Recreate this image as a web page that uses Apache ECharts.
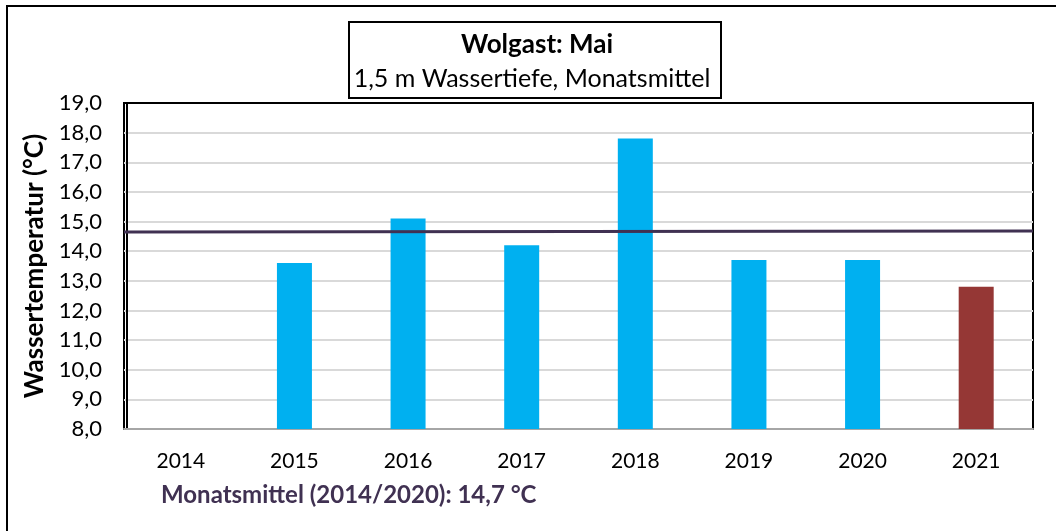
<!DOCTYPE html>
<html>
<head>
<meta charset="utf-8">
<script src="https://cdn.jsdelivr.net/npm/echarts@6/dist/echarts.min.js"></script>
<style>
  html, body { margin: 0; padding: 0; background: #fff; }
  #chart { width: 1056px; height: 531px; }
</style>
</head>
<body>
<div id="chart"></div>
<script>
// data
const years = ['2014', '2015', '2016', '2017', '2018', '2019', '2020', '2021']
const temps = [null, 13.6, 15.1, 14.2, 17.8, 13.7, 13.7, 12.8]
const meanLine = [[-0.003, 14.65], [1, 14.68]]
const yTicks = { min: 8, max: 19, step: 1 }

const font = 'Lato, "Open Sans", sans-serif'
const blue = '#00B0F0'
const brown = '#953735'
const purple = '#403152'

// last year is drawn in brown
const barData = temps.map((v, i) => ({
  value: v,
  itemStyle: { color: i === temps.length - 1 ? brown : blue }
}))

// split line colours: grey for all, black at the top (grid border)
const splitColors = []
for (let v = yTicks.min; v <= yTicks.max; v += yTicks.step) {
  splitColors.push(v === yTicks.max ? '#000' : '#d9d9d9')
}

const chart = echarts.init(document.getElementById('chart'))
chart.setOption({
  animation: false,
  backgroundColor: '#fff',
  textStyle: { fontFamily: font },
  grid: {
    left: 124, right: 23, top: 103, bottom: 102,
    show: true,
    borderColor: '#000',
    borderWidth: 2
  },
  xAxis: [
    {
      type: 'category',
      data: years,
      axisLine: { lineStyle: { color: '#a6a6a6', width: 2 } },
      axisTick: { show: false },
      axisLabel: { color: '#000', fontSize: 21, margin: 22, fontFamily: font }
    },
    {
      type: 'value',
      min: -0.003,
      max: 1,
      show: false
    }
  ],
  yAxis: {
    type: 'value',
    min: yTicks.min,
    max: yTicks.max,
    interval: yTicks.step,
    name: 'Wassertemperatur (°C)',
    nameLocation: 'middle',
    nameGap: 68,
    nameRotate: 90,
    nameTextStyle: { color: '#000', fontSize: 26, fontWeight: 'bold', fontFamily: font },
    axisLine: { show: true, lineStyle: { color: '#000', width: 2 } },
    axisTick: { show: false },
    axisLabel: {
      color: '#000',
      fontSize: 22,
      margin: 22,
      fontFamily: font,
      formatter: v => v.toFixed(1).replace('.', ',')
    },
    splitLine: { lineStyle: { color: splitColors, width: 2 } }
  },
  series: [
    {
      type: 'bar',
      data: barData,
      barWidth: 35
    },
    {
      type: 'line',
      xAxisIndex: 1,
      data: meanLine,
      symbol: 'none',
      clip: false,
      lineStyle: { color: purple, width: 3 },
      z: 5
    }
  ],
  graphic: [
    // outer frame (cut off at the right and bottom)
    {
      type: 'rect',
      shape: { x: 7, y: 6, width: 1100, height: 600 },
      style: { fill: null, stroke: '#000', lineWidth: 2 },
      silent: true
    },
    // title box
    {
      type: 'rect',
      shape: { x: 349, y: 22, width: 372, height: 76 },
      style: { fill: '#fff', stroke: '#000', lineWidth: 2 },
      silent: true
    },
    {
      type: 'text',
      x: 537, y: 45,
      style: {
        text: 'Wolgast: Mai',
        align: 'center', verticalAlign: 'middle',
        font: 'bold 26px ' + font, fill: '#000'
      }
    },
    {
      type: 'text',
      x: 532, y: 79,
      style: {
        text: '1,5 m Wassertiefe, Monatsmittel',
        align: 'center', verticalAlign: 'middle',
        font: '25px ' + font, fill: '#000'
      }
    },
    {
      type: 'text',
      x: 161, y: 495,
      style: {
        text: 'Monatsmittel (2014/2020): 14,7 °C',
        align: 'left', verticalAlign: 'middle',
        font: 'bold 24px ' + font, fill: purple
      }
    }
  ]
})
</script>
</body>
</html>
